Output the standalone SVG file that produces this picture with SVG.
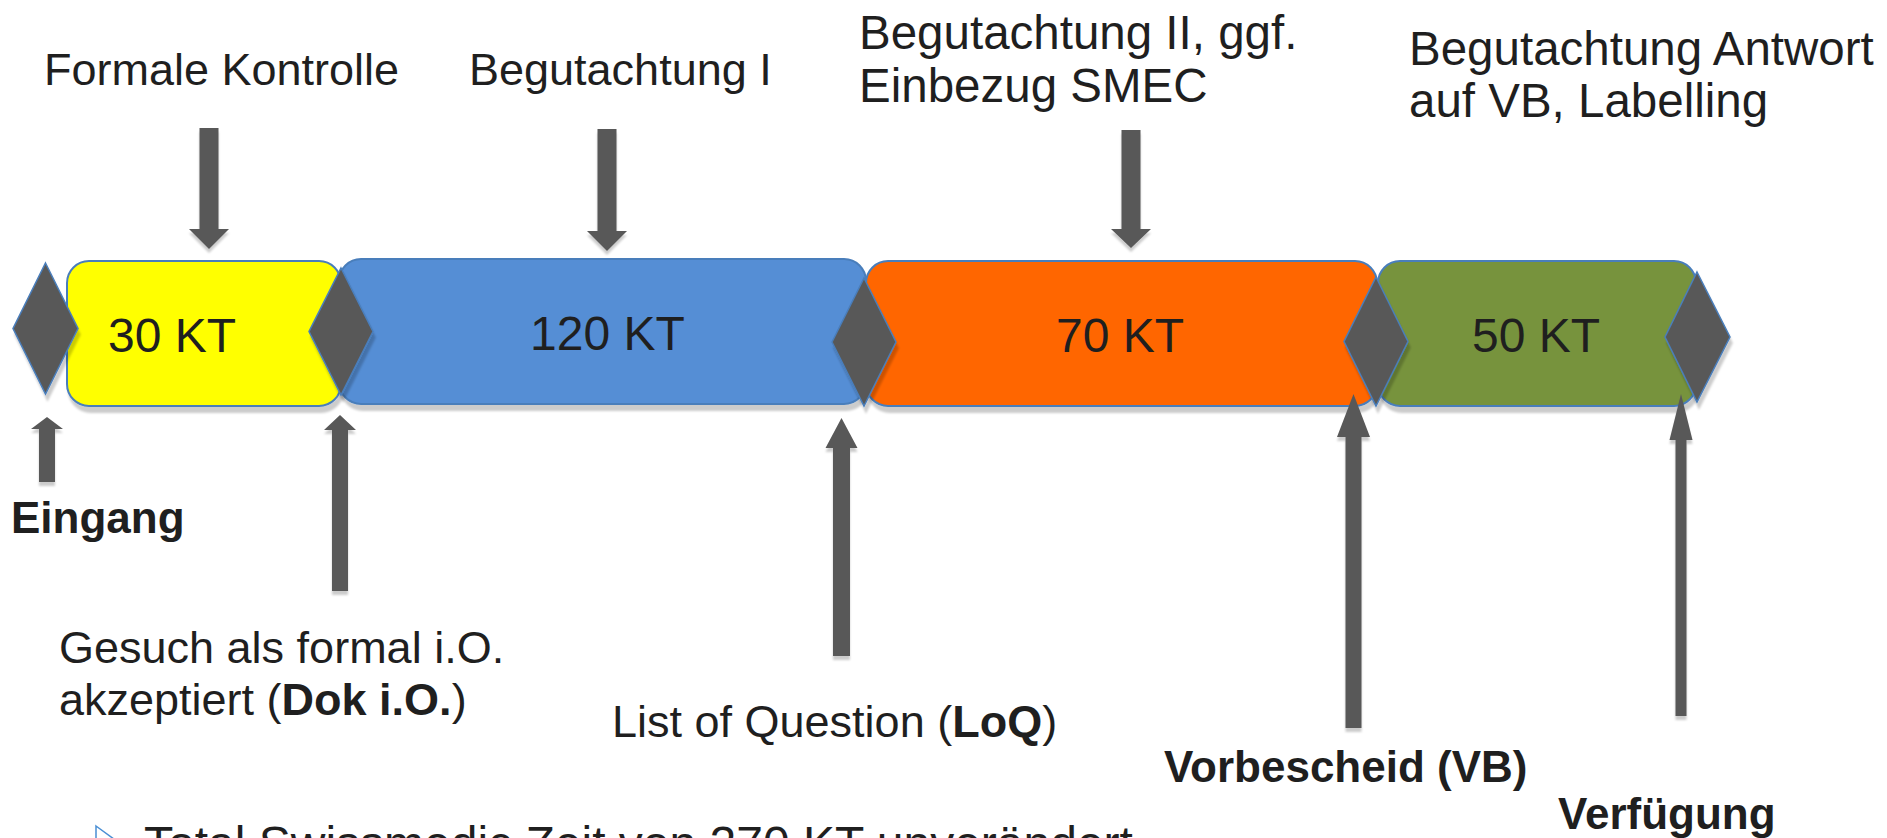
<svg xmlns="http://www.w3.org/2000/svg" width="1887" height="838" viewBox="0 0 1887 838">
  <style>
    .t { font-family: "Liberation Sans", Arial, sans-serif; fill: #1f1f1f; }
    .n45 { font-size: 45px; }
    .n47 { font-size: 47.5px; }
    .n48 { font-size: 48px; }
    .b44 { font-size: 44px; font-weight: bold; }
    .b { font-weight: bold; }
    .phase { stroke: #4a7ebb; stroke-width: 2; filter: url(#shadow); }
    .ms { fill: #595959; stroke: #4a7ebb; stroke-width: 1.5; filter: url(#shadow); }
    .arrow { fill: #595959; filter: url(#ashadow); }
  </style>
  <defs>
    <filter id="shadow" x="-10%" y="-10%" width="130%" height="130%">
      <feDropShadow dx="2" dy="6" stdDeviation="1" flood-color="#000" flood-opacity="0.2"/>
    </filter>
    <filter id="ashadow" x="-30%" y="-10%" width="160%" height="130%">
      <feDropShadow dx="0" dy="4" stdDeviation="0.8" flood-color="#000" flood-opacity="0.2"/>
    </filter>
  </defs>
  <rect width="1887" height="838" fill="#ffffff"/>

  <!-- phase bars -->
  <g id="phase-formal">
    <rect class="phase" x="67" y="261" width="274" height="145" rx="22" fill="#ffff00"/>
    <text class="t n48" x="108" y="352">30 KT</text>
  </g>
  <g id="phase-begutachtung1">
    <rect class="phase" x="339" y="259" width="527" height="145" rx="22" fill="#558ed5"/>
    <text class="t n48" x="530" y="350">120 KT</text>
  </g>
  <g id="phase-begutachtung2">
    <rect class="phase" x="866" y="261" width="511" height="145" rx="22" fill="#ff6600"/>
    <text class="t n48" x="1056" y="352">70 KT</text>
  </g>
  <g id="phase-antwort">
    <rect class="phase" x="1378" y="261" width="318" height="145" rx="22" fill="#77933c"/>
    <text class="t n48" x="1472" y="352">50 KT</text>
  </g>

  <!-- milestones -->
  <g id="ms-eingang"><polygon class="ms" points="45.5,263 78,328.5 45.5,394 13,328.5"/></g>
  <g id="ms-dok"><polygon class="ms" points="341,268 373,331.5 341,395 309,331.5"/></g>
  <g id="ms-loq"><polygon class="ms" points="864,278 896,342 864,406 832,342"/></g>
  <g id="ms-vb"><polygon class="ms" points="1376,277 1408,341.5 1376,406 1344,341.5"/></g>
  <g id="ms-verfuegung"><polygon class="ms" points="1697,272 1730,337 1697,402 1665,337"/></g>

  <!-- block arrows -->
  <g id="connectors">
    <!-- down arrows from the activity labels -->
    <polygon class="arrow" points="199.5,128 218.5,128 218.5,229 229,229 209,249 189,229 199.5,229"/>
    <polygon class="arrow" points="597.5,129 616.5,129 616.5,231 627,231 607,251 587,231 597.5,231"/>
    <polygon class="arrow" points="1121.5,130 1140.5,130 1140.5,229 1151,229 1131,248 1111,229 1121.5,229"/>
    <!-- up arrows from the milestone labels -->
    <polygon class="arrow" points="47,417 63,429 55,429 55,482 39,482 39,429 31,429"/>
    <polygon class="arrow" points="340,415 356,430 348,430 348,591 332,591 332,430 324,430"/>
    <polygon class="arrow" points="841.5,418 857.5,448 850,448 850,656 833,656 833,448 825.5,448"/>
    <polygon class="arrow" points="1353.5,394 1370,437 1361.5,437 1361.5,728 1345.5,728 1345.5,437 1337,437"/>
    <polygon class="arrow" points="1681,394 1692.5,440 1686.5,440 1686.5,716 1675.5,716 1675.5,440 1669.5,440"/>
  </g>

  <!-- activity labels -->
  <g id="label-formal">
    <text class="t n45" x="44" y="85">Formale Kontrolle</text>
  </g>
  <g id="label-begutachtung1">
    <text class="t n45" x="469" y="85">Begutachtung I</text>
  </g>
  <g id="label-begutachtung2">
    <text class="t n47" x="859" y="49">Begutachtung II, ggf.</text>
    <text class="t n47" x="859" y="102">Einbezug SMEC</text>
  </g>
  <g id="label-antwort">
    <text class="t n47" x="1409" y="65">Begutachtung Antwort</text>
    <text class="t n47" x="1409" y="117">auf VB, Labelling</text>
  </g>

  <!-- milestone labels -->
  <g id="label-eingang">
    <text class="t b44" x="11" y="533">Eingang</text>
  </g>
  <g id="label-dok">
    <text class="t n45" x="59" y="663">Gesuch als formal i.O.</text>
    <text class="t n45" x="59" y="715">akzeptiert (<tspan class="b">Dok i.O.</tspan>)</text>
  </g>
  <g id="label-loq">
    <text class="t n45" x="612" y="737">List of Question (<tspan class="b">LoQ</tspan>)</text>
  </g>
  <g id="label-vb">
    <text class="t b44" x="1164" y="782">Vorbescheid (VB)</text>
  </g>
  <g id="label-verfuegung">
    <text class="t b44" x="1558" y="829">Verfügung</text>
  </g>

  <!-- bullet note, running off the lower edge -->
  <g id="note">
    <polygon points="96,826 118,842 96,858" fill="none" stroke="#4a8fd4" stroke-width="1.5"/>
    <text class="t n48" x="144" y="860">Total Swissmedic Zeit von 270 KT unverändert</text>
  </g>
</svg>
